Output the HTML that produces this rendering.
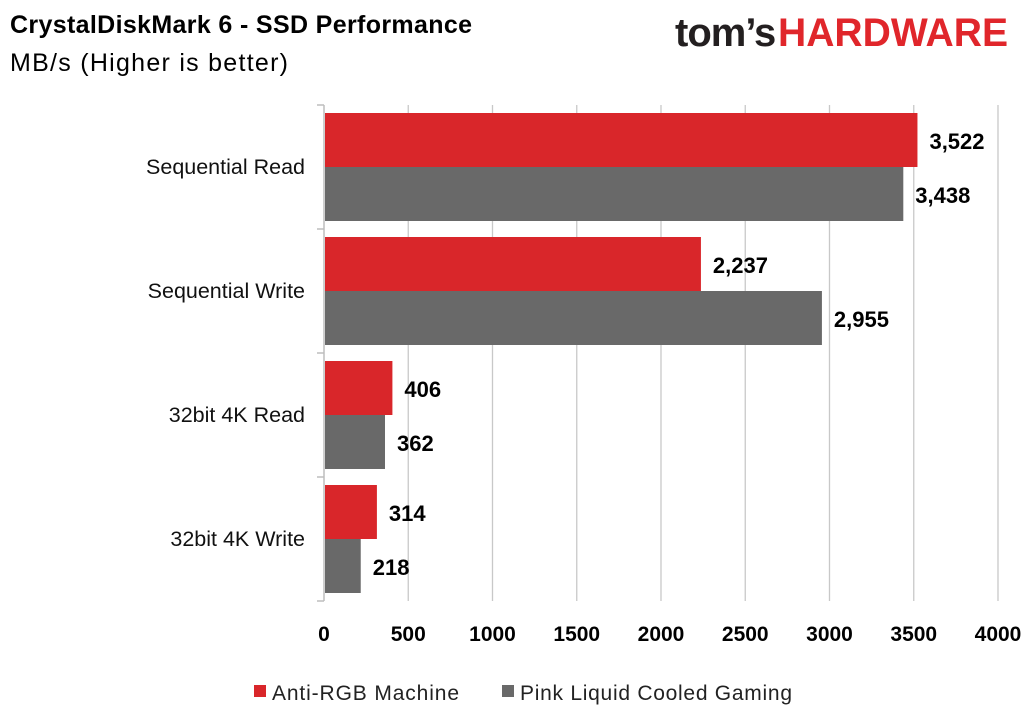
<!DOCTYPE html>
<html><head><meta charset="utf-8"><style>
body{margin:0;background:#fff;}
svg{display:block;font-family:"Liberation Sans",Calibri,sans-serif;}
</style></head><body>
<svg id="chart" width="1036" height="727" viewBox="0 0 1036 727">
<text x="10" y="33" font-size="25" font-weight="bold" fill="#000" textLength="462">CrystalDiskMark 6 - SSD Performance</text>
<text x="10" y="71" font-size="25" fill="#000" textLength="278">MB/s (Higher is better)</text>
<g>
<text x="675" y="46" font-size="40" font-weight="bold" fill="#231f20" letter-spacing="-1">tom’s</text>
<text x="778" y="46" font-size="40" font-weight="bold" fill="#e0262b" textLength="230" lengthAdjust="spacingAndGlyphs">HARDWARE</text>
</g>
<g id="grid"></g>
<g id="bars"></g>
<g id="legend">
<rect x="254" y="685" width="12" height="12" fill="#d9262a"/>
<text x="272" y="700" font-size="21" fill="#222" textLength="187">Anti-RGB Machine</text>
<rect x="502" y="685" width="12" height="12" fill="#696969"/>
<text x="520" y="700" font-size="21" fill="#222" textLength="272">Pink Liquid Cooled Gaming</text>
</g>
</svg>
<script>
const categories=["Sequential Read","Sequential Write","32bit 4K Read","32bit 4K Write"];
const seriesA=[3522,2237,406,314];
const seriesB=[3438,2955,362,218];
const labelsA=["3,522","2,237","406","314"];
const labelsB=["3,438","2,955","362","218"];
const ticks=[0,500,1000,1500,2000,2500,3000,3500,4000];
const NS="http://www.w3.org/2000/svg";
const x0=324,x1=998,maxV=4000,yTop=105,band=124;
const xs=v=>x0+(v/maxV)*(x1-x0);
function mk(tag,attrs,parent,txt){const e=document.createElementNS(NS,tag);for(const k in attrs)e.setAttribute(k,attrs[k]);if(txt!==undefined)e.textContent=txt;parent.appendChild(e);return e;}
const grid=document.getElementById('grid'),bars=document.getElementById('bars');
ticks.forEach(t=>{
 if(t>0){const l=mk('line',{x1:xs(t),x2:xs(t),y1:yTop,y2:yTop+band*categories.length,stroke:'#c8c8c8','stroke-width':1.3},grid);
 
 }
 const tx=mk('text',{x:xs(t),y:641,'font-size':21,'font-weight':'bold','text-anchor':'middle',fill:'#000'},grid,String(t));
 
 
});
const ax=mk('line',{x1:x0,x2:x0,y1:yTop,y2:yTop+band*categories.length,stroke:'#bdbdbd','stroke-width':1.5},grid);


for(let i=0;i<=categories.length;i++){
 const tk=mk('line',{x1:x0-7,x2:x0,y1:yTop+band*i,y2:yTop+band*i,stroke:'#bdbdbd','stroke-width':1.5},grid);
 
 
}
categories.forEach((c,i)=>{
 const by=yTop+band*i;
 const lab=mk('text',{x:305,y:by+69,'font-size':21.5,'text-anchor':'end',fill:'#111'},bars,c);
 
 
 const ra=mk('rect',{x:x0+1,y:by+8,width:xs(seriesA[i])-x0-1,height:54,fill:'#d9262a'},bars);
 
 
 const rb=mk('rect',{x:x0+1,y:by+62,width:xs(seriesB[i])-x0-1,height:54,fill:'#696969'},bars);
 
 
 const ta=mk('text',{x:xs(seriesA[i])+12,y:by+44,'font-size':22,'font-weight':'bold',fill:'#000'},bars,labelsA[i]);
 
 
 const tb=mk('text',{x:xs(seriesB[i])+12,y:by+98,'font-size':22,'font-weight':'bold',fill:'#000'},bars,labelsB[i]);
 
 
});
</script>
</body></html>
